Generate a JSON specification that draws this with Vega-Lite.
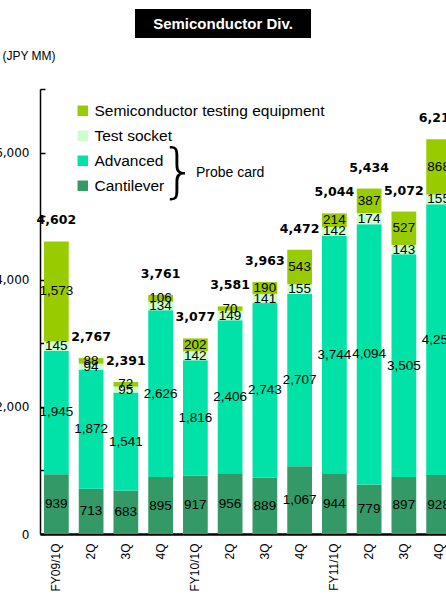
{
  "$schema": "https://vega.github.io/schema/vega-lite/v6.json",
  "padding": {"left": -6, "top": 9, "right": 0, "bottom": 0},
  "background": "white",
  "config": {"view": {"stroke": null}, "font": "Liberation Sans"},
  "datasets": {
    "cats": [
      {"cat": "Cantilever", "rank": 1},
      {"cat": "Advanced", "rank": 2},
      {"cat": "Test socket", "rank": 3},
      {"cat": "Semiconductor testing equipment", "rank": 4}
    ],
    "segments": [
      {"q": "FY09/1Q", "cat": "Cantilever", "v": 939},
      {"q": "FY09/2Q", "cat": "Cantilever", "v": 713},
      {"q": "FY09/3Q", "cat": "Cantilever", "v": 683},
      {"q": "FY09/4Q", "cat": "Cantilever", "v": 895},
      {"q": "FY10/1Q", "cat": "Cantilever", "v": 917},
      {"q": "FY10/2Q", "cat": "Cantilever", "v": 956},
      {"q": "FY10/3Q", "cat": "Cantilever", "v": 889},
      {"q": "FY10/4Q", "cat": "Cantilever", "v": 1067},
      {"q": "FY11/1Q", "cat": "Cantilever", "v": 944},
      {"q": "FY11/2Q", "cat": "Cantilever", "v": 779},
      {"q": "FY11/3Q", "cat": "Cantilever", "v": 897},
      {"q": "FY11/4Q", "cat": "Cantilever", "v": 928},
      {"q": "FY09/1Q", "cat": "Advanced", "v": 1945},
      {"q": "FY09/2Q", "cat": "Advanced", "v": 1872},
      {"q": "FY09/3Q", "cat": "Advanced", "v": 1541},
      {"q": "FY09/4Q", "cat": "Advanced", "v": 2626},
      {"q": "FY10/1Q", "cat": "Advanced", "v": 1816},
      {"q": "FY10/2Q", "cat": "Advanced", "v": 2406},
      {"q": "FY10/3Q", "cat": "Advanced", "v": 2743},
      {"q": "FY10/4Q", "cat": "Advanced", "v": 2707},
      {"q": "FY11/1Q", "cat": "Advanced", "v": 3744},
      {"q": "FY11/2Q", "cat": "Advanced", "v": 4094},
      {"q": "FY11/3Q", "cat": "Advanced", "v": 3505},
      {"q": "FY11/4Q", "cat": "Advanced", "v": 4259},
      {"q": "FY09/1Q", "cat": "Test socket", "v": 145},
      {"q": "FY09/2Q", "cat": "Test socket", "v": 94},
      {"q": "FY09/3Q", "cat": "Test socket", "v": 95},
      {"q": "FY09/4Q", "cat": "Test socket", "v": 134},
      {"q": "FY10/1Q", "cat": "Test socket", "v": 142},
      {"q": "FY10/2Q", "cat": "Test socket", "v": 149},
      {"q": "FY10/3Q", "cat": "Test socket", "v": 141},
      {"q": "FY10/4Q", "cat": "Test socket", "v": 155},
      {"q": "FY11/1Q", "cat": "Test socket", "v": 142},
      {"q": "FY11/2Q", "cat": "Test socket", "v": 174},
      {"q": "FY11/3Q", "cat": "Test socket", "v": 143},
      {"q": "FY11/4Q", "cat": "Test socket", "v": 155},
      {"q": "FY09/1Q", "cat": "Semiconductor testing equipment", "v": 1573},
      {"q": "FY09/2Q", "cat": "Semiconductor testing equipment", "v": 88},
      {"q": "FY09/3Q", "cat": "Semiconductor testing equipment", "v": 72},
      {"q": "FY09/4Q", "cat": "Semiconductor testing equipment", "v": 106},
      {"q": "FY10/1Q", "cat": "Semiconductor testing equipment", "v": 202},
      {"q": "FY10/2Q", "cat": "Semiconductor testing equipment", "v": 70},
      {"q": "FY10/3Q", "cat": "Semiconductor testing equipment", "v": 190},
      {"q": "FY10/4Q", "cat": "Semiconductor testing equipment", "v": 543},
      {"q": "FY11/1Q", "cat": "Semiconductor testing equipment", "v": 214},
      {"q": "FY11/2Q", "cat": "Semiconductor testing equipment", "v": 387},
      {"q": "FY11/3Q", "cat": "Semiconductor testing equipment", "v": 527},
      {"q": "FY11/4Q", "cat": "Semiconductor testing equipment", "v": 868}
    ],
    "totals": [
      {"q": "FY09/1Q", "total": 4602},
      {"q": "FY09/2Q", "total": 2767},
      {"q": "FY09/3Q", "total": 2391},
      {"q": "FY09/4Q", "total": 3761},
      {"q": "FY10/1Q", "total": 3077},
      {"q": "FY10/2Q", "total": 3581},
      {"q": "FY10/3Q", "total": 3963},
      {"q": "FY10/4Q", "total": 4472},
      {"q": "FY11/1Q", "total": 5044},
      {"q": "FY11/2Q", "total": 5434},
      {"q": "FY11/3Q", "total": 5072},
      {"q": "FY11/4Q", "total": 6210}
    ]
  },
  "bounds": "flush",
  "spacing": 80,
  "vconcat": [
    {
      "bounds": "flush",
      "spacing": 0,
      "hconcat": [
        {
          "width": 95, "height": 29,
          "data": {"values": [{}]},
          "mark": {"type": "text"},
          "encoding": {"text": {"value": ""}}
        },
        {
          "width": 176, "height": 29,
          "view": {"fill": "black", "stroke": null},
          "data": {"values": [{}]},
          "mark": {"type": "text", "color": "white", "fontWeight": "bold", "fontSize": 15, "font": "Liberation Sans"},
          "encoding": {"text": {"value": "Semiconductor Div."}}
        }
      ]
    },
    {
      "width": 415,
      "height": 445,
      "layer": [
        {
          "data": {"name": "segments"},
          "transform": [{"lookup": "cat", "from": {"data": {"name": "cats"}, "key": "cat", "fields": ["rank"]}}],
          "mark": {"type": "bar"},
          "encoding": {
            "x": {
              "field": "q", "type": "nominal", "sort": null,
              "scale": {"paddingInner": 0.288, "paddingOuter": 0.115},
              "axis": {
                "title": null, "ticks": false, "labelAngle": -90, "labelFont": "Liberation Sans", "labelFontSize": 12,
                "labelColor": "black", "labelPadding": 9, "domainColor": "black", "domainWidth": 2.5,
                "labelExpr": "indexof(datum.value, '1Q') >= 0 ? datum.value : slice(datum.value, 5)"
              }
            },
            "y": {
              "field": "v", "type": "quantitative", "stack": "zero",
              "scale": {"domain": [0, 7000], "nice": false},
              "axis": {
                "title": "(JPY MM)", "titleAngle": 0, "titleAlign": "left", "titleBaseline": "middle",
                "titleX": -38, "titleY": -34, "titleFont": "Liberation Sans", "titleFontSize": 12, "titleFontWeight": "normal", "titleColor": "black",
                "grid": false, "values": [0, 1000, 2000, 3000, 4000, 5000, 6000, 7000],
                "labelExpr": "datum.value % 2000 == 0 ? format(datum.value, ',') : ''",
                "labelFont": "DejaVu Sans", "labelFontSize": 12, "labelColor": "black", "labelPadding": 16,
                "tickSize": -5, "tickColor": "black", "tickWidth": 1.5, "domainColor": "black", "domainWidth": 1.5
              }
            },
            "order": {"field": "rank", "type": "quantitative", "sort": "ascending"},
            "color": {
              "field": "cat", "type": "nominal",
              "scale": {
                "domain": ["Cantilever", "Advanced", "Test socket", "Semiconductor testing equipment"],
                "range": ["#339966", "#00E2A8", "#CCFFCC", "#99CC00"]
              },
              "legend": {
                "values": ["Semiconductor testing equipment", "Test socket", "Advanced", "Cantilever"],
                "orient": "none", "legendX": 35, "legendY": 94, "title": null, "padding": 0,
                "symbolType": "square", "symbolSize": 110, "symbolStrokeWidth": 0, "symbolOpacity": 1,
                "labelFont": "Liberation Sans", "labelFontSize": 15.5, "labelColor": "black", "labelOffset": 4,
                "rowPadding": 8, "labelLimit": 400
              }
            }
          }
        },
        {
          "data": {"name": "segments"},
          "transform": [{"lookup": "cat", "from": {"data": {"name": "cats"}, "key": "cat", "fields": ["rank"]}}],
          "mark": {"type": "text", "font": "Liberation Sans", "fontSize": 13.5, "color": "black"},
          "encoding": {
            "x": {"field": "q", "type": "nominal", "sort": null},
            "y": {"field": "v", "type": "quantitative", "stack": "zero", "bandPosition": 0.5},
            "detail": {"field": "cat", "type": "nominal"},
            "order": {"field": "rank", "type": "quantitative", "sort": "ascending"},
            "text": {"field": "v", "type": "quantitative", "format": ","}
          }
        },
        {
          "data": {"name": "totals"},
          "mark": {"type": "text", "font": "DejaVu Sans", "fontWeight": "bold", "fontSize": 12.5, "color": "black", "baseline": "middle", "dy": -21},
          "encoding": {
            "x": {"field": "q", "type": "nominal", "sort": null},
            "y": {"field": "total", "type": "quantitative"},
            "text": {"field": "total", "type": "quantitative", "format": ","}
          }
        },
        {
          "data": {"values": [{"label": "Probe card"}]},
          "mark": {"type": "text", "font": "Liberation Sans", "fontSize": 14, "color": "black", "baseline": "middle"},
          "encoding": {
            "x": {"datum": "FY10/2Q", "type": "nominal"},
            "y": {"datum": 5685, "type": "quantitative"},
            "text": {"field": "label"}
          }
        },
        {
          "data": {"values": [{"label": "}"}]},
          "mark": {"type": "text", "font": "DejaVu Sans", "fontWeight": 200, "fontSize": 58, "color": "black", "baseline": "middle", "dx": -17},
          "encoding": {
            "x": {"datum": "FY10/1Q", "type": "nominal"},
            "y": {"datum": 5665, "type": "quantitative"},
            "text": {"field": "label"}
          }
        }
      ]
    }
  ]
}
